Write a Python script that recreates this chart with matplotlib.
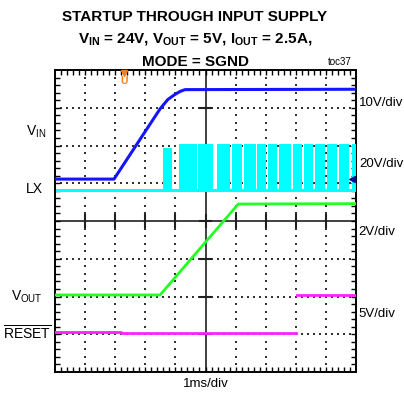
import numpy as np
import matplotlib
matplotlib.use("Agg")
import matplotlib.pyplot as plt

plt.rcParams['font.family'] = 'Liberation Sans'
plt.rcParams['mathtext.fontset'] = 'custom'
plt.rcParams['mathtext.rm'] = 'Liberation Sans'
plt.rcParams['mathtext.bf'] = 'Liberation Sans:bold'

# traces, in scope divisions (x: 0..10, y: 0..8)
vin_x = [0, 1.96, 3.49, 3.75, 3.98, 4.15, 4.32, 10]
vin_y = [5.11, 5.11, 6.97, 7.22, 7.35, 7.43, 7.48, 7.49]

lx_base = 4.82
lx_start = [3.60, 4.12, 4.76, 5.37, 5.87, 6.28, 6.72, 7.07, 7.45, 7.90, 8.27, 8.65, 9.05, 9.45, 9.86]
lx_end = [3.89, 4.71, 5.26, 5.81, 6.20, 6.68, 7.01, 7.39, 7.83, 8.20, 8.58, 8.97, 9.38, 9.78, 10.0]
lx_top = [5.93, 6.05, 6.05, 6.05, 6.05, 6.05, 6.05, 6.05, 6.05, 6.05, 6.05, 6.05, 6.05, 6.05, 6.05]

vout_x = [0, 3.49, 6.09, 10]
vout_y = [2.04, 2.04, 4.45, 4.46]

reset_lo_x = [0, 2.2, 2.2, 8.01]
reset_lo_y = [1.07, 1.07, 1.04, 1.04]
reset_hi_x = [8.04, 10]
reset_hi_y = [2.04, 2.04]

W, H = 404, 397
fig = plt.figure(figsize=(W / 100, H / 100), dpi=100)
ax = fig.add_axes([55 / W, 1 - 372 / H, 301 / W, 302 / H])
ax.set_xlim(0, 10)
ax.set_ylim(0, 8)

# graticule: dotted lines + centre cross
for gx in range(1, 10):
    if gx == 5:
        continue
    yy = np.arange(0.2, 8, 0.2)
    ax.scatter(np.full_like(yy, gx), yy, s=1.2, marker='s', color='#333333', lw=0, zorder=1)
for gy in range(1, 8):
    if gy == 4:
        continue
    xx = np.arange(0.2, 10, 0.2)
    ax.scatter(xx, np.full_like(xx, gy), s=1.2, marker='s', color='#333333', lw=0, zorder=1)
ax.axvline(5, color='#303030', lw=1.3, zorder=1)
ax.axhline(4, color='#303030', lw=1.3, zorder=1)
for gx in range(1, 10):
    ax.plot([gx, gx], [3.85, 4.15], color='#202020', lw=1.5, zorder=1)
for gy in range(1, 8):
    ax.plot([4.82, 5.18], [gy, gy], color='#202020', lw=1.5, zorder=1)

ax.set_xticks([])
ax.set_yticks([])
ax.set_xticks(np.arange(0.2, 10, 0.2), minor=True)
ax.set_yticks(np.arange(0.2, 8, 0.2), minor=True)
ax.tick_params(which='minor', direction='in', length=3.5, width=1, top=True, right=True,
               labelbottom=False, labelleft=False, color='black')
for sp in ax.spines.values():
    sp.set_linewidth(1.4)

# traces
ax.plot(vin_x, vin_y, color='#1414ff', lw=2.2, zorder=4)
ax.plot([0.05, 10], [lx_base, lx_base], color='#00ffff', lw=2.2, zorder=3)
for s, e, t in zip(lx_start, lx_end, lx_top):
    ax.fill_between([s, e], lx_base - 0.06, t, color='#00ffff', lw=0, zorder=3)
ax.plot(vout_x, vout_y, color='#22ff22', lw=2.0, zorder=4)
ax.plot(reset_lo_x, reset_lo_y, color='#ff22ff', lw=2.0, zorder=4)
ax.plot(reset_hi_x, reset_hi_y, color='#ff22ff', lw=2.0, zorder=4)

# markers
ax.plot([2.29], [7.93], marker='v', ms=5, color='#f08020', clip_on=False, zorder=5)
ax.text(2.29, 7.7, 'U', color='#f08020', fontsize=7.5, fontweight='bold', ha='center', va='center', zorder=5)
ax.plot([9.88], [5.12], marker='<', ms=4, color='#0a0aa0', zorder=5)


def px(x, y):
    return x / W, 1 - y / H


# title
fig.text(*px(195, 20.7), 'STARTUP THROUGH INPUT SUPPLY', fontsize=11, fontweight='bold',
         ha='center', va='baseline')
fig.text(*px(195, 42.7), r'$\mathbf{V_{IN}}$ = 24V, $\mathbf{V_{OUT}}$ = 5V, $\mathbf{I_{OUT}}$ = 2.5A,',
         fontsize=11, fontweight='bold', ha='center', va='baseline')
fig.text(*px(195, 65.5), 'MODE = SGND', fontsize=11, fontweight='bold', ha='center', va='baseline')
fig.text(*px(352, 62), 'toc37', fontsize=7, ha='right', va='center')

# channel labels
fig.text(*px(46, 136), r'V$_{\mathrm{IN}}$', fontsize=10, ha='right', va='baseline')
fig.text(*px(43, 193), 'LX', fontsize=10, ha='right', va='baseline')
fig.text(*px(43, 301), r'V$_{\mathrm{OUT}}$', fontsize=10, ha='right', va='baseline')
fig.text(*px(51, 340), r'$\overline{\mathrm{RESET}}$', fontsize=10, ha='right', va='baseline')

# scale labels
fig.text(*px(359, 103), '10V/div', fontsize=9.5, ha='left', va='center')
fig.text(*px(359, 164), '20V/div', fontsize=9.5, ha='left', va='center')
fig.text(*px(358, 232), '2V/div', fontsize=9.5, ha='left', va='center')
fig.text(*px(358, 314), '5V/div', fontsize=9.5, ha='left', va='center')
fig.text(*px(206, 384), '1ms/div', fontsize=9.5, ha='center', va='center')

fig.savefig('out.png', dpi=100)
